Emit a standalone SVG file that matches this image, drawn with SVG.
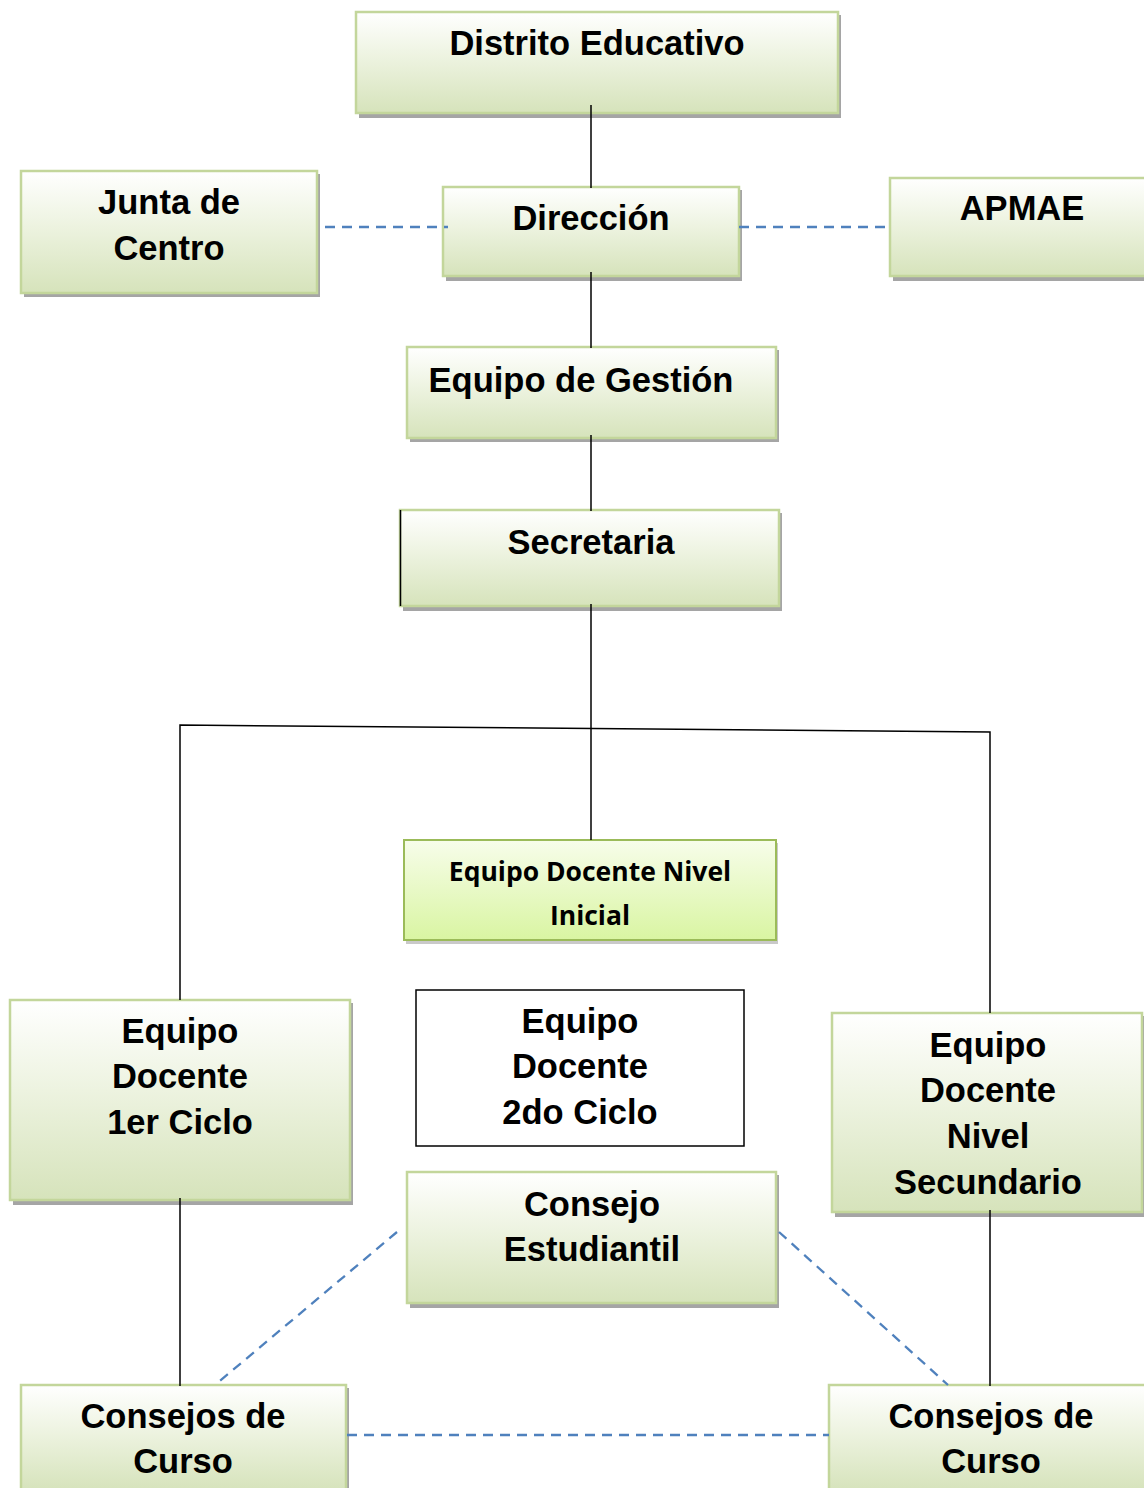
<svg xmlns="http://www.w3.org/2000/svg" width="1144" height="1488" viewBox="0 0 1144 1488">
<defs>
<linearGradient id="g" x1="0" y1="0" x2="0" y2="1">
<stop offset="0" stop-color="#ffffff"/>
<stop offset="0.45" stop-color="#edf3e0"/>
<stop offset="1" stop-color="#d6e3bb"/>
</linearGradient>
<linearGradient id="gb" x1="0" y1="0" x2="0" y2="1">
<stop offset="0" stop-color="#f7fdea"/>
<stop offset="1" stop-color="#d9f5a2"/>
</linearGradient>
</defs>
<style>
.sh{fill:#a5a5a5}
.bx{fill:url(#g);stroke:#c3d69b;stroke-width:2.5}
.bb{fill:url(#gb);stroke:#9bbb59;stroke-width:2}
.t{font-family:"Liberation Sans",Arial,sans-serif;font-weight:bold;font-size:34.5px;fill:#000;text-anchor:middle}
.tc{font-family:"Open Sans","Noto Sans",sans-serif;font-weight:bold;font-size:26.5px;fill:#000;text-anchor:middle}
.ln{stroke:#000;stroke-width:1.5;fill:none}
.ds{stroke:#4f81bd;stroke-width:2.3;stroke-dasharray:10,7;fill:none}
</style>
<g id="distrito">
<rect class="sh" x="359" y="15" width="482" height="103"/>
<rect class="bx" x="356" y="12" width="482" height="101"/>
<text class="t" x="597" y="55">Distrito Educativo</text>
</g>
<g id="junta">
<rect class="sh" x="24" y="174" width="296" height="123"/>
<rect class="bx" x="21" y="171" width="296" height="122"/>
<text class="t" x="169" y="214">Junta de</text>
<text class="t" x="169" y="260">Centro</text>
</g>
<g id="direccion">
<rect class="sh" x="446" y="190" width="296" height="91"/>
<rect class="bx" x="443" y="187" width="296" height="89"/>
<text class="t" x="591" y="230">Dirección</text>
</g>
<g id="apmae">
<rect class="sh" x="893" y="181" width="254" height="100"/>
<rect class="bx" x="890" y="178" width="256" height="98"/>
<text class="t" x="1022" y="220">APMAE</text>
</g>
<g id="gestion">
<rect class="sh" x="410" y="350" width="369" height="92"/>
<rect class="bx" x="407" y="347" width="369" height="91"/>
<text class="t" x="581" y="392">Equipo de Gestión</text>
</g>
<g id="secretaria">
<rect class="sh" x="403" y="513" width="379" height="98"/>
<rect class="bx" x="400" y="510" width="379" height="96"/>
<line x1="400.5" y1="510" x2="400.5" y2="606" stroke="#000" stroke-width="1.5"/>
<text class="t" x="591" y="554">Secretaria</text>
</g>
<g id="inicial">
<rect class="sh" x="406" y="843" width="372" height="101" opacity="0.6"/>
<rect class="bb" x="404" y="840" width="372" height="100"/>
<text class="tc" x="590" y="881">Equipo Docente Nivel</text>
<text class="tc" x="590" y="925">Inicial</text>
</g>
<g id="ciclo1">
<rect class="sh" x="13" y="1003" width="340" height="202"/>
<rect class="bx" x="10" y="1000" width="340" height="200"/>
<text class="t" x="180" y="1043">Equipo</text>
<text class="t" x="180" y="1088">Docente</text>
<text class="t" x="180" y="1134">1er Ciclo</text>
</g>
<g id="ciclo2">
<rect x="416" y="990" width="328" height="156" fill="#fff" stroke="#000" stroke-width="1.5"/>
<text class="t" x="580" y="1033">Equipo</text>
<text class="t" x="580" y="1078">Docente</text>
<text class="t" x="580" y="1124">2do Ciclo</text>
</g>
<g id="secundario">
<rect class="sh" x="835" y="1016" width="310" height="201"/>
<rect class="bx" x="832" y="1013" width="310" height="199"/>
<text class="t" x="988" y="1057">Equipo</text>
<text class="t" x="988" y="1102">Docente</text>
<text class="t" x="988" y="1148">Nivel</text>
<text class="t" x="988" y="1194">Secundario</text>
</g>
<g id="estudiantil">
<rect class="sh" x="410" y="1175" width="369" height="133"/>
<rect class="bx" x="407" y="1172" width="369" height="131"/>
<text class="t" x="592" y="1216">Consejo</text>
<text class="t" x="592" y="1261">Estudiantil</text>
</g>
<g id="curso1">
<rect class="sh" x="24" y="1388" width="325" height="104"/>
<rect class="bx" x="21" y="1385" width="325" height="106"/>
<text class="t" x="183" y="1428">Consejos de</text>
<text class="t" x="183" y="1473">Curso</text>
</g>
<g id="curso2">
<rect class="sh" x="832" y="1388" width="316" height="104"/>
<rect class="bx" x="829" y="1385" width="318" height="106"/>
<text class="t" x="991" y="1428">Consejos de</text>
<text class="t" x="991" y="1473">Curso</text>
</g>
<g id="connectors">
<line class="ln" x1="591" y1="105" x2="591" y2="188"/>
<line class="ln" x1="591" y1="272" x2="591" y2="348"/>
<line class="ln" x1="591" y1="435" x2="591" y2="511"/>
<line class="ln" x1="591" y1="604" x2="591" y2="840"/>
<polyline class="ln" points="180,1000 180,725 990,732 990,1013"/>
<line class="ln" x1="180" y1="1198" x2="180" y2="1386"/>
<line class="ln" x1="990" y1="1210" x2="990" y2="1386"/>
<line class="ds" x1="325" y1="227" x2="448" y2="227"/>
<line class="ds" x1="739" y1="227" x2="890" y2="227"/>
<line class="ds" x1="397" y1="1232" x2="215" y2="1385"/>
<line class="ds" x1="779" y1="1232" x2="948" y2="1385"/>
<line class="ds" x1="347" y1="1435" x2="829" y2="1435"/>
</g>
</svg>
